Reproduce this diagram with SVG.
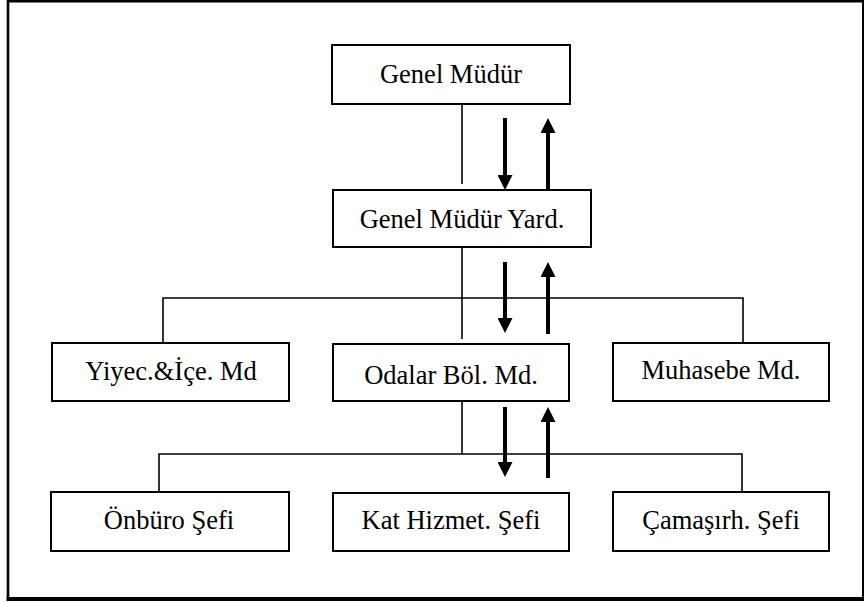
<svg xmlns="http://www.w3.org/2000/svg" width="864" height="602" viewBox="0 0 864 602">
  <style>
    .box { fill: #ffffff; stroke: #000000; stroke-width: 2; }
    .label { font-family: "Liberation Serif", "Times New Roman", serif; font-size: 26.5px; fill: #000000; text-anchor: middle; }
    .link { fill: none; stroke: #000000; stroke-width: 1.6; }
    .flow { fill: none; stroke: #000000; stroke-width: 4; marker-end: url(#head); }
    .frame { fill: none; stroke: #000000; }
  </style>
  <defs>
    <marker id="head" markerUnits="userSpaceOnUse" markerWidth="15" markerHeight="15" refX="0" refY="7.5" orient="auto">
      <path d="M0,0 L15,7.5 L0,15 Z" fill="#000000"/>
    </marker>
  </defs>

  <rect width="864" height="602" fill="#ffffff"/>

  <!-- outer frame -->
  <g id="frame">
    <line class="frame" x1="8" y1="1.3" x2="864" y2="1.3" stroke-width="2.6"/>
    <line class="frame" x1="8" y1="0" x2="8" y2="601" stroke-width="2.6"/>
    <line class="frame" x1="6.7" y1="599" x2="864" y2="599" stroke-width="4"/>
    <line class="frame" x1="863" y1="0" x2="863" y2="601" stroke-width="2"/>
  </g>

  <!-- connectors: thin reporting lines and the paired up/down flow arrows -->
  <g id="connectors">
    <line class="link" x1="462" y1="105" x2="462" y2="184"/>
    <line class="link" x1="462" y1="247" x2="462" y2="339"/>
    <polyline class="link" points="163,343 163,298 743,298 743,343"/>
    <line class="link" x1="462" y1="401" x2="462" y2="454"/>
    <polyline class="link" points="159,492 159,454 742,454 742,492"/>

    <line class="flow" x1="505" y1="118" x2="505" y2="175"/>
    <line class="flow" x1="548" y1="190" x2="548" y2="133"/>
    <line class="flow" x1="505" y1="262" x2="505" y2="318"/>
    <line class="flow" x1="548" y1="334" x2="548" y2="277"/>
    <line class="flow" x1="505" y1="407" x2="505" y2="462"/>
    <line class="flow" x1="548" y1="478" x2="548" y2="422"/>
  </g>

  <g id="genel-mudur">
    <rect class="box" x="332" y="45" width="238" height="59"/>
    <text class="label" x="451" y="83">Genel Müdür</text>
  </g>

  <g id="genel-mudur-yard">
    <rect class="box" x="333" y="190" width="258" height="57"/>
    <text class="label" x="462" y="228">Genel Müdür Yard.</text>
  </g>

  <g id="yiyecek-icecek">
    <rect class="box" x="52" y="343" width="237" height="58"/>
    <text class="label" x="171" y="380">Yiyec.&amp;İçe. Md</text>
  </g>

  <g id="odalar">
    <rect class="box" x="333" y="344" width="236" height="57"/>
    <text class="label" x="451" y="384">Odalar Böl. Md.</text>
  </g>

  <g id="muhasebe">
    <rect class="box" x="613" y="343" width="216" height="58"/>
    <text class="label" x="721" y="379">Muhasebe Md.</text>
  </g>

  <g id="onburo">
    <rect class="box" x="51" y="492" width="238" height="59"/>
    <text class="label" x="169" y="529">Önbüro Şefi</text>
  </g>

  <g id="kat-hizmet">
    <rect class="box" x="333" y="493" width="236" height="58"/>
    <text class="label" x="451" y="529">Kat Hizmet. Şefi</text>
  </g>

  <g id="camasirhane">
    <rect class="box" x="613" y="492" width="216" height="59"/>
    <text class="label" x="721" y="529">Çamaşırh. Şefi</text>
  </g>
</svg>
